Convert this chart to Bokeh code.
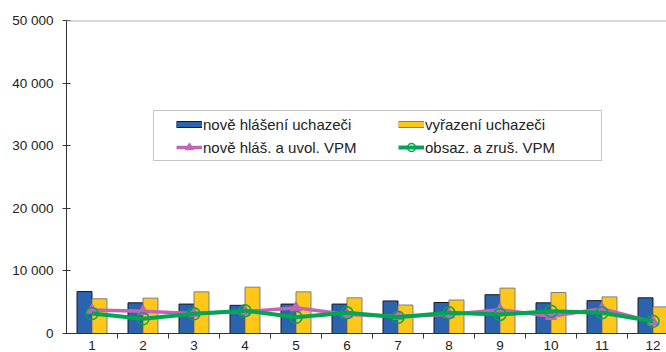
from bokeh.plotting import figure
from bokeh.models import (Range1d, FixedTicker, Span, BoxAnnotation, Legend,
                          LegendItem, ColumnDataSource)
from bokeh.embed import file_html
from bokeh.resources import INLINE

# ---- data ----
months = ["1", "2", "3", "4", "5", "6", "7", "8", "9", "10", "11", "12"]
nove_hlaseni = [6700, 4900, 4700, 4500, 4700, 4700, 5200, 4950, 6200, 4900, 5250, 5700]
vyrazeni = [5550, 5650, 6650, 7400, 6650, 5700, 4550, 5350, 7250, 6550, 5850, 4250]
vpm_nove = [3750, 3550, 3200, 3500, 4100, 3050, 2750, 3050, 3800, 2750, 3950, 1850]
vpm_obsaz = [3200, 2350, 3150, 3650, 2600, 3300, 2600, 3300, 3050, 3550, 3300, 1950]
y_ticks = [0, 10000, 20000, 30000, 40000, 50000]
y_tick_labels = ["0", "10 000", "20 000", "30 000", "40 000", "50 000"]
series_names = ["nově hlášení uchazeči", "vyřazení uchazeči",
                "nově hláš. a uvol. VPM", "obsaz. a zruš. VPM"]

FONT = "Liberation Sans"
BLUE = "#2b63ae"
YELLOW = "#ffc719"
PURPLE = "#c365b6"
GREEN = "#00a651"
AXIS = "#333333"

n = len(months)
centers = [i + 0.5 for i in range(n)]
bw = 0.294
src = ColumnDataSource(dict(
    xc=centers,
    xb=[c - bw / 2 for c in centers],
    xy=[c + bw / 2 for c in centers],
    nove=nove_hlaseni, vyr=vyrazeni, vn=vpm_nove, vo=vpm_obsaz,
))

p = figure(width=666, height=352, output_backend="svg", toolbar_location=None,
           x_range=Range1d(0, 600 / 51), y_range=Range1d(0, 50000),
           min_border_left=66, min_border_right=0, min_border_top=20,
           min_border_bottom=18, outline_line_color=None)
p.xgrid.visible = False
p.ygrid.visible = False

# bars
p.vbar(x="xb", top="nove", width=bw, source=src, fill_color=BLUE,
       line_color="#1a1a1a", line_width=1)
p.vbar(x="xy", top="vyr", width=bw, source=src, fill_color=YELLOW,
       line_color="#7f7f7f", line_width=1)

# lines
pl = p.line(x="xc", y="vn", source=src, line_color=PURPLE, line_width=3.5)
pm = p.scatter(x="xc", y="vn", source=src, marker="triangle", size=11,
               fill_color=PURPLE, line_color=PURPLE)
gl = p.line(x="xc", y="vo", source=src, line_color=GREEN, line_width=4)
gm = p.scatter(x="xc", y="vo", source=src, marker="circle", size=12,
               fill_color=None, line_color=GREEN, line_width=1.5)

# top border
p.add_layout(Span(location=50000, dimension="width", line_color="#b4b4b4",
                  line_width=2))

# axes
ya = p.yaxis[0]
ya.ticker = FixedTicker(ticks=y_ticks)
ya.major_label_overrides = {v: s for v, s in zip(y_ticks, y_tick_labels)}
ya.major_tick_in = 4
ya.major_tick_out = 4
ya.minor_tick_line_color = None
ya.axis_line_color = AXIS
ya.major_tick_line_color = AXIS
ya.major_label_standoff = 9
ya.major_label_text_font = FONT
ya.major_label_text_font_size = "13.5px"
ya.major_label_text_color = "#222222"

xa = p.xaxis[0]
xa.ticker = FixedTicker(ticks=centers, minor_ticks=list(range(1, n)))
xa.major_label_overrides = {c: m for c, m in zip(centers, months)}
xa.axis_line_color = AXIS
xa.minor_tick_line_color = AXIS
xa.minor_tick_in = 0
xa.minor_tick_out = 5
xa.major_tick_line_color = None
xa.major_tick_in = 0
xa.major_tick_out = 0
xa.major_label_standoff = 2
xa.major_label_text_font = FONT
xa.major_label_text_font_size = "13.5px"
xa.major_label_text_color = "#222222"

# legend glyph stand-ins for bars (no visible data)
nan = float("nan")
lb_o = p.line(x=[nan], y=[nan], line_color="#1a1a1a", line_width=7, line_cap="butt")
lb_i = p.line(x=[nan], y=[nan], line_color=BLUE, line_width=5, line_cap="butt")
ly_o = p.line(x=[nan], y=[nan], line_color="#7f7f7f", line_width=7, line_cap="butt")
ly_i = p.line(x=[nan], y=[nan], line_color=YELLOW, line_width=5, line_cap="butt")

p.add_layout(BoxAnnotation(left=87, right=535, bottom=173, top=223,
                           left_units="screen", right_units="screen",
                           bottom_units="screen", top_units="screen",
                           fill_color=None, fill_alpha=0,
                           line_color="#404040", line_width=1))

legend = Legend(items=[
    LegendItem(label=series_names[0], renderers=[lb_o, lb_i]),
    LegendItem(label=series_names[1], renderers=[ly_o, ly_i]),
    LegendItem(label=series_names[2], renderers=[pl, pm]),
    LegendItem(label=series_names[3], renderers=[gl, gm]),
], location=(110, 176), orientation="horizontal", ncols=2,
    glyph_width=26, glyph_height=20, label_height=20, label_width=192,
    label_standoff=1, spacing=3, padding=0, margin=0,
    border_line_color=None, background_fill_alpha=0,
    label_text_font=FONT, label_text_font_size="15px",
    label_text_color="#222222")
p.add_layout(legend, "center")

open("out.html", "w").write(file_html(p, INLINE))
